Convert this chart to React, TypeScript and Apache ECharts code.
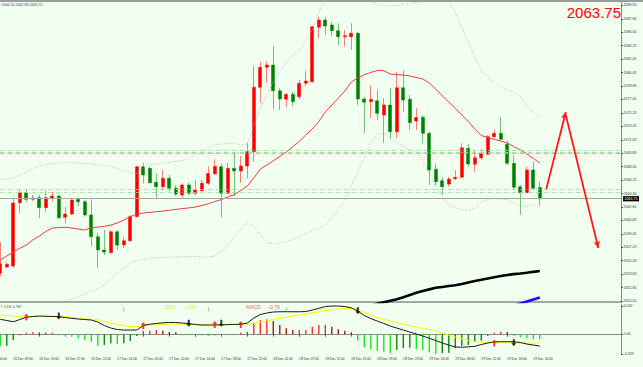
import React, { useEffect, useRef } from "react";
import * as echarts from "echarts";

// x-axis tick labels (one every 4 hourly bars)
const tickLabels = [
  "26 Dec 04:00", "26 Dec 09:00", "26 Dec 13:00", "26 Dec 17:00", "26 Dec 21:00",
  "27 Dec 01:00", "27 Dec 05:00", "27 Dec 10:00", "27 Dec 14:00", "27 Dec 18:00",
  "27 Dec 22:00", "28 Dec 02:00", "28 Dec 07:00", "28 Dec 11:00", "28 Dec 15:00",
  "28 Dec 19:00", "28 Dec 23:00", "29 Dec 03:00", "29 Dec 08:00", "29 Dec 12:00",
  "29 Dec 16:00", "29 Dec 20:00",
];

// hourly candles: [open, close, low, high]
const ohlc: number[][] = [
  [2053.80, 2055.00, 2053.40, 2057.95], [2054.60, 2054.96, 2054.47, 2055.27],
  [2054.74, 2063.18, 2054.47, 2063.71], [2063.22, 2064.56, 2061.84, 2064.92],
  [2064.56, 2063.67, 2063.35, 2064.92], [2063.67, 2063.85, 2063.45, 2064.25],
  [2063.89, 2062.55, 2061.13, 2064.25], [2062.55, 2063.89, 2062.01, 2064.82],
  [2063.81, 2064.11, 2063.35, 2064.69], [2064.11, 2061.21, 2061.03, 2064.25],
  [2061.26, 2061.70, 2060.46, 2062.68], [2061.70, 2063.58, 2061.57, 2063.67],
  [2063.67, 2063.35, 2062.77, 2063.89], [2063.35, 2061.57, 2061.34, 2063.58],
  [2061.57, 2058.66, 2057.32, 2063.67], [2058.66, 2056.88, 2054.47, 2059.16],
  [2056.88, 2056.61, 2056.21, 2059.56], [2056.52, 2059.33, 2056.44, 2059.56],
  [2059.33, 2057.55, 2056.88, 2059.56], [2057.55, 2058.13, 2057.11, 2058.66],
  [2058.13, 2061.34, 2057.99, 2061.57], [2061.34, 2068.04, 2061.26, 2068.13],
  [2068.04, 2066.93, 2065.81, 2068.58], [2067.82, 2065.89, 2065.81, 2068.04],
  [2065.95, 2065.36, 2063.81, 2067.15], [2065.36, 2066.49, 2064.92, 2067.60],
  [2066.49, 2065.15, 2064.69, 2066.93], [2065.15, 2064.38, 2064.11, 2065.59],
  [2064.25, 2065.59, 2063.94, 2065.81], [2065.59, 2064.48, 2064.25, 2065.89],
  [2064.48, 2064.92, 2064.25, 2066.26], [2064.82, 2065.81, 2064.69, 2066.26],
  [2065.81, 2067.13, 2065.59, 2068.04], [2067.10, 2068.09, 2066.93, 2069.03],
  [2068.04, 2064.48, 2061.26, 2068.49], [2064.48, 2067.82, 2064.38, 2068.58],
  [2067.82, 2067.46, 2064.11, 2069.97], [2067.46, 2068.13, 2065.89, 2069.47],
  [2068.13, 2070.05, 2066.49, 2071.25], [2070.05, 2078.68, 2068.71, 2081.53],
  [2078.68, 2081.35, 2076.57, 2082.10], [2081.35, 2081.66, 2079.25, 2082.20],
  [2081.66, 2078.22, 2075.73, 2084.21], [2078.22, 2077.11, 2075.63, 2078.54],
  [2077.07, 2077.74, 2076.00, 2077.87], [2077.74, 2076.75, 2076.17, 2078.09],
  [2077.42, 2079.21, 2077.07, 2079.65], [2079.21, 2079.52, 2078.85, 2080.90],
  [2079.43, 2086.79, 2079.29, 2086.89], [2086.71, 2087.69, 2085.24, 2088.13],
  [2087.69, 2086.89, 2085.68, 2088.13], [2087.02, 2086.26, 2085.45, 2087.46],
  [2086.26, 2085.45, 2084.34, 2087.25], [2085.45, 2085.59, 2084.11, 2086.35],
  [2085.45, 2085.91, 2083.67, 2087.25], [2085.91, 2077.11, 2076.30, 2086.12],
  [2077.11, 2076.67, 2072.55, 2077.42], [2076.75, 2077.07, 2074.56, 2078.98],
  [2076.88, 2075.19, 2074.29, 2078.31], [2074.96, 2076.30, 2071.21, 2077.24],
  [2076.30, 2072.73, 2071.75, 2078.58], [2072.73, 2078.62, 2071.88, 2080.72],
  [2078.62, 2076.97, 2075.41, 2080.90], [2077.07, 2073.93, 2072.96, 2077.64],
  [2074.16, 2074.63, 2072.96, 2075.90], [2074.66, 2072.51, 2071.17, 2074.96],
  [2072.51, 2067.60, 2065.59, 2072.73], [2067.69, 2066.03, 2065.59, 2068.49],
  [2066.16, 2065.36, 2064.25, 2066.62], [2065.72, 2066.39, 2065.36, 2066.70],
  [2066.43, 2066.62, 2066.26, 2067.60], [2066.62, 2070.58, 2066.49, 2071.17],
  [2070.50, 2068.40, 2068.04, 2071.08], [2068.36, 2069.24, 2067.37, 2070.28],
  [2069.24, 2069.83, 2068.94, 2070.37], [2069.70, 2072.06, 2069.61, 2072.29],
  [2072.06, 2072.51, 2071.84, 2073.05], [2072.51, 2071.71, 2071.62, 2074.70],
  [2071.04, 2068.49, 2068.27, 2071.52], [2068.49, 2065.28, 2065.05, 2069.61],
  [2065.36, 2064.56, 2061.57, 2065.59], [2064.56, 2067.60, 2064.48, 2068.04],
  [2067.60, 2065.15, 2064.92, 2068.71], [2065.24, 2063.75, 2062.83, 2066.10],
];

// moving average (red)
const maMid = [
  2055.54, 2056.08, 2056.61, 2057.11, 2057.55, 2058.22, 2058.76, 2059.36, 2059.83, 2059.89,
  2059.92, 2059.83, 2059.69, 2059.56, 2059.87, 2059.96, 2060.05, 2060.23, 2060.50, 2060.90,
  2061.34, 2061.70, 2061.84, 2061.93, 2062.01, 2062.10, 2062.21, 2062.32, 2062.43, 2062.52,
  2062.64, 2062.84, 2063.08, 2063.38, 2063.63, 2063.98, 2064.31, 2064.85, 2065.45, 2066.53,
  2067.73, 2068.27, 2068.84, 2069.43, 2070.01, 2070.72, 2071.44, 2072.29, 2073.09, 2074.09,
  2075.37, 2076.30, 2077.24, 2078.18, 2079.39, 2079.92, 2080.35, 2080.66, 2080.93, 2080.89,
  2080.46, 2080.36, 2080.32, 2080.19, 2079.99, 2079.79, 2079.25, 2078.45, 2077.51, 2076.71,
  2075.84, 2074.96, 2074.09, 2073.09, 2072.22, 2071.95, 2071.68, 2071.48, 2071.21, 2070.74,
  2070.28, 2069.74, 2069.16, 2068.53,
];

// Bollinger bands (dotted grey)
const bbUpper = [
  2066.35, 2066.39, 2066.48, 2066.93, 2067.33, 2067.80, 2068.13, 2068.33, 2068.47, 2068.54,
  2068.57, 2068.57, 2068.54, 2068.49, 2068.43, 2068.33, 2068.20, 2068.11, 2067.80, 2067.46,
  2067.26, 2067.15, 2067.86, 2068.33, 2068.47, 2068.54, 2068.60, 2068.74, 2068.87, 2069.07,
  2069.54, 2070.01, 2070.61, 2070.95, 2071.08, 2071.17, 2071.15, 2071.01, 2070.95, 2073.62,
  2075.90, 2077.64, 2079.39, 2080.86, 2082.06, 2082.87, 2083.67, 2085.01, 2086.35, 2088.76,
  2090.37, 2091.44, 2092.25, 2092.51, 2092.38, 2091.71, 2090.91, 2090.24, 2089.83, 2089.57,
  2089.57, 2089.66, 2089.77, 2089.90, 2090.04, 2090.14, 2090.50, 2090.64, 2090.50, 2090.37,
  2088.76, 2086.62, 2084.74, 2082.73, 2080.86, 2080.06, 2079.39, 2078.72, 2078.31, 2077.98,
  2077.51, 2076.17, 2075.37, 2074.56,
];
const bbLower = [
  2046.16, 2046.43, 2046.83, 2047.23, 2047.77, 2048.31, 2048.84, 2049.38, 2049.71, 2049.85,
  2050.05, 2050.32, 2050.65, 2050.99, 2051.39, 2051.66, 2052.19, 2053.00, 2053.80, 2054.47,
  2055.14, 2055.47, 2055.61, 2055.74, 2055.85, 2055.90, 2055.94, 2055.94, 2055.97, 2056.00,
  2056.00, 2055.94, 2055.94, 2056.08, 2056.75, 2057.48, 2058.62, 2059.69, 2060.50, 2060.10,
  2058.89, 2057.95, 2057.68, 2057.82, 2057.99, 2058.29, 2058.62, 2059.09, 2059.52, 2059.83,
  2060.23, 2061.10, 2062.37, 2063.58, 2065.45, 2067.33, 2069.20, 2071.21, 2072.42, 2072.55,
  2071.82, 2071.21, 2070.81, 2070.34, 2070.01, 2068.94, 2067.06, 2065.32, 2064.02, 2062.99,
  2062.56, 2062.24, 2062.24, 2062.44, 2063.38, 2063.64, 2063.78, 2063.71, 2063.64, 2063.24,
  2062.64, 2062.77, 2062.91, 2062.64,
];

// slow moving averages entering from below (black, blue)
const slowStart = 57;
const maSlow = [
  2049.44, 2049.67, 2049.89, 2050.10, 2050.30, 2050.56, 2050.85, 2051.15, 2051.39, 2051.61,
  2051.82, 2051.94, 2052.06, 2052.16, 2052.33, 2052.53, 2052.73, 2052.90, 2053.08, 2053.24,
  2053.40, 2053.54, 2053.65, 2053.74, 2053.84, 2053.96, 2054.07,
];
const blueStart = 79;
const maBlue = [2049.44, 2049.71, 2049.98, 2050.25, 2050.52];

// MACD window
const macdHist = [
  -2.6, -2.5, -1.27, -0.26, 0.30, 0.39, 0.34, 0.30, 0.30, -0.26,
  -0.41, -0.56, -0.90, -1.27, -1.63, -2.56, -2.34, -1.98, -2.13, -1.98,
  -1.48, -0.41, 0.73, 0.73, 0.88, 0.73, 0.45, 0.39, -0.26, -0.26,
  -0.26, -0.30, -0.41, -0.26, -0.26, -0.26, -0.26, 0.30, 0.52, 2.32,
  3.03, 3.18, 2.81, 1.95, 1.25, 0.88, 0.88, 0.88, 1.59, 1.95,
  1.95, 1.59, 1.03, 0.73, 0.39, -1.42, -2.83, -3.26, -3.56, -3.78,
  -4.12, -3.41, -2.98, -2.94, -3.26, -3.41, -3.91, -4.27, -4.12, -3.99,
  -3.05, -2.56, -2.34, -1.63, -1.42, -0.41, 0.30, 0.52, 0.45, -0.41,
  -0.69, -0.90, -1.12, -1.12,
];
const macdLine = [
  3.18, 2.92, 2.66, 3.14, 3.61, 3.78, 3.89, 3.84, 3.78, 3.74,
  3.56, 3.39, 3.24, 3.14, 3.03, 2.60, 1.85, 1.31, 0.99, 0.88,
  0.88, 0.88, 1.85, 2.13, 2.28, 2.43, 2.51, 2.49, 2.38, 2.28,
  2.06, 1.95, 1.95, 1.95, 2.00, 2.04, 2.08, 2.10, 2.38, 3.46,
  4.21, 4.53, 4.75, 4.81, 4.81, 4.81, 4.81, 4.85, 5.18, 5.54,
  5.93, 6.03, 6.03, 5.93, 5.65, 4.96, 3.99, 3.35, 2.81, 2.28,
  1.74, 1.31, 0.88, 0.45, 0.02, -0.41, -0.88, -1.37, -1.91, -2.34,
  -2.77, -2.81, -2.73, -2.62, -2.23, -1.91, -1.65, -1.63, -1.63, -1.63,
  -1.80, -2.13, -2.34, -2.56,
];
const signalLine = [
  4.10, 3.99, 3.89, 3.80, 3.74, 3.76, 3.80, 3.84, 3.87, 3.89,
  3.78, 3.61, 3.46, 3.29, 3.14, 3.03, 2.71, 2.38, 2.06, 1.80,
  1.63, 1.67, 1.80, 1.95, 2.06, 2.13, 2.15, 2.17, 2.17, 2.16,
  2.15, 2.13, 2.12, 2.11, 2.10, 2.10, 2.10, 2.10, 2.17, 2.38,
  2.60, 2.81, 3.14, 3.39, 3.63, 3.84, 4.08, 4.32, 4.57, 4.83,
  5.07, 5.28, 5.39, 5.48, 5.54, 5.28, 4.64, 3.99, 3.50, 3.14,
  2.81, 2.49, 2.13, 1.85, 1.52, 1.25, 0.99, 0.67, 0.24, -0.19,
  -0.62, -1.01, -1.37, -1.63, -1.70, -1.76, -1.80, -1.83, -1.85, -1.87,
  -1.89, -1.90, -1.91, -1.91,
];
const buyArrows = [[4, 3.67], [22, 1.85], [33, 2.06], [37, 2.06], [76, -1.91]];
const sellArrows = [[9, 3.89], [29, 2.32], [34, 2.32], [55, 5.02], [79, -1.85]];
const hintMarks = [[19, 5.3], [32, 5.3], [44, 5.3]];

const priceTicks = [
  2050.05, 2051.85, 2053.65, 2055.45, 2057.25, 2059.05, 2060.85, 2062.65, 2064.45, 2066.25,
  2068.05, 2069.85, 2071.65, 2073.45, 2075.25, 2077.05, 2078.85, 2080.65, 2082.45, 2084.25,
  2086.05, 2087.85, 2089.65,
];
const macdTicks = [6.042, 0, -4.329];
const macdTickText = ["6.042", "0.00", "-4.329"];
const lastPrice = 2063.75;
const greenLevels = [2070.28, 2070.01, 2065.01, 2064.56];
const redLevels = [2069.83];
const trendUp = [[83.95, 2065.05], [86.95, 2075.37]];
const trendDown = [[87.35, 2074.96], [92.27, 2057.15]];

const LEAD = 2;
const TOTAL = 98;
const FONT = "Liberation Sans, Arial, sans-serif";

export default function App() {
  const ref = useRef<HTMLDivElement>(null);
  useEffect(() => {
    document.body.style.margin = "0";
    const chart = echarts.init(ref.current!, null, { renderer: "svg" });
    const categories = Array.from({ length: TOTAL }, (_, j) => String(j));
    const padLine = (arr: number[], start = 0) => {
      const out: any[] = Array(TOTAL).fill(null);
      arr.forEach((v, k) => (out[LEAD + start + k] = v));
      return out;
    };
    const candleData: any[] = Array.from({ length: TOTAL }, () => ["-", "-", "-", "-"]);
    ohlc.forEach((c, k) => (candleData[LEAD + k] = c));
    const histData: any[] = Array(TOTAL).fill(null);
    macdHist.forEach((v, k) => {
      const prev = k > 0 ? macdHist[k - 1] : v;
      let color;
      if (v >= 0) color = v >= prev ? "#ff2a2a" : "#a01818";
      else color = v <= prev ? "#22e022" : "#0a8a0a";
      histData[LEAD + k] = { value: v, itemStyle: { color } };
    });
    const shift = (pts: number[][]) => pts.map(([x, y]) => [x + LEAD, y]);
    const upArrow = "path://M5 0 L10 5 L7 5 L7 12 L3 12 L3 5 L0 5 Z";
    const downArrow = "path://M3 0 L7 0 L7 7 L10 7 L5 12 L0 7 L3 7 Z";
    const gridLeft = -15.95;
    const gridWidth = 637;
    const isTick = (idx: number) => idx % 4 === 0 && idx / 4 < tickLabels.length;

    const option: any = {
      animation: false,
      backgroundColor: "#f0fff0",
      textStyle: { fontFamily: FONT },
      grid: [
        { left: gridLeft, width: gridWidth, top: 2, height: 300, outerBoundsMode: "none", containLabel: false },
        { left: gridLeft, width: gridWidth, top: 304, height: 50.5, outerBoundsMode: "none", containLabel: false },
      ],
      xAxis: [
        {
          type: "category", gridIndex: 0, data: categories, boundaryGap: true,
          axisLine: { show: true, lineStyle: { color: "#8a8a8a", width: 1.5 } },
          axisTick: { show: false }, axisLabel: { show: false }, splitLine: { show: false },
        },
        {
          type: "category", gridIndex: 1, data: categories, boundaryGap: true,
          axisLine: { show: true, lineStyle: { color: "#8a8a8a", width: 1 } },
          axisTick: { show: true, alignWithLabel: true, interval: (i: number) => isTick(i), length: 2.5, lineStyle: { color: "#555" } },
          axisLabel: {
            show: true, interval: (i: number) => isTick(i), align: "left", margin: 2.5,
            fontSize: 3.3, color: "#333", fontFamily: FONT, hideOverlap: false,
            formatter: (_v: string, i: number) => tickLabels[i / 4] ?? "",
          },
          splitLine: { show: false },
        },
      ],
      yAxis: [
        {
          type: "value", gridIndex: 0, position: "right", min: 2049.92, max: 2090.1,
          axisLine: { show: true, lineStyle: { color: "#8a8a8a", width: 1 } },
          axisTick: { show: true, length: 2, customValues: priceTicks, lineStyle: { color: "#555" } },
          axisLabel: {
            show: true, customValues: priceTicks, margin: 2.5, fontSize: 3.6, color: "#333",
            fontFamily: FONT, formatter: (v: number) => v.toFixed(2),
          },
          splitLine: { show: false },
        },
        {
          type: "value", gridIndex: 1, position: "right", min: -4.372, max: 6.471,
          axisLine: { show: true, lineStyle: { color: "#8a8a8a", width: 1 } },
          axisTick: { show: true, length: 2, customValues: macdTicks, lineStyle: { color: "#555" } },
          axisLabel: {
            show: true, customValues: macdTicks, margin: 2.5, fontSize: 3.6, color: "#333",
            fontFamily: FONT, formatter: (v: number) => macdTickText[macdTicks.indexOf(v)] ?? "",
          },
          splitLine: { show: false },
        },
      ],
      series: [
        {
          type: "line", xAxisIndex: 0, yAxisIndex: 0, data: padLine(bbUpper), symbol: "none",
          lineStyle: { color: "#a8b0a8", width: 0.8, type: [1, 1.5] }, silent: true,
        },
        {
          type: "line", xAxisIndex: 0, yAxisIndex: 0, data: padLine(bbLower), symbol: "none",
          lineStyle: { color: "#a8b0a8", width: 0.8, type: [1, 1.5] }, silent: true,
        },
        {
          type: "line", xAxisIndex: 0, yAxisIndex: 0, data: [], symbol: "none", silent: true,
          markLine: {
            silent: true, symbol: "none", animation: false, label: { show: false },
            data: [
              ...greenLevels.map((v) => ({ yAxis: v, lineStyle: { color: "#9ad89a", width: 0.8, type: [4, 1.5, 1, 1.5] } })),
              ...redLevels.map((v) => ({ yAxis: v, lineStyle: { color: "#f09090", width: 0.8, type: [4, 1.5, 1, 1.5] } })),
            ],
          },
        },
        {
          type: "candlestick", xAxisIndex: 0, yAxisIndex: 0, data: candleData, barWidth: 3.8,
          itemStyle: { color: "#ff0000", color0: "#008000", borderColor: "#ff0000", borderColor0: "#008000", borderWidth: 0.5 },
          markLine: {
            silent: true, symbol: "none", animation: false,
            data: [{
              yAxis: lastPrice,
              lineStyle: { color: "#a8a8a8", width: 1, type: "solid" },
              label: {
                show: true, position: "end", distance: 2, formatter: lastPrice.toFixed(2),
                color: "#ffffff", backgroundColor: "#000000", fontSize: 3.6, padding: [0.6, 1.5],
                fontFamily: FONT,
              },
            }],
          },
        },
        {
          type: "line", xAxisIndex: 0, yAxisIndex: 0, data: padLine(maMid), symbol: "none",
          lineStyle: { color: "#f03a3a", width: 1 }, silent: true,
        },
        {
          type: "line", xAxisIndex: 0, yAxisIndex: 0, data: padLine(maSlow, slowStart), symbol: "none",
          lineStyle: { color: "#000000", width: 2.6 }, silent: true,
        },
        {
          type: "line", xAxisIndex: 0, yAxisIndex: 0, data: padLine(maBlue, blueStart), symbol: "none",
          lineStyle: { color: "#1010ff", width: 2.6 }, silent: true,
        },
        {
          type: "line", xAxisIndex: 0, yAxisIndex: 0, data: [], symbol: "none", silent: true,
          markLine: {
            silent: true, symbol: ["none", "arrow"], symbolSize: [5, 7], animation: false,
            label: { show: false },
            lineStyle: { color: "#ff1a1a", width: 1.8, type: "solid" },
            data: [
              shift(trendUp).map((c) => ({ coord: c })),
              shift(trendDown).map((c) => ({ coord: c })),
            ],
          },
        },
        {
          type: "bar", xAxisIndex: 1, yAxisIndex: 1, data: histData, barWidth: 1.4, silent: true,
        },
        {
          type: "line", xAxisIndex: 1, yAxisIndex: 1, data: padLine(signalLine), symbol: "none",
          lineStyle: { color: "#ffff00", width: 1.1 }, silent: true,
        },
        {
          type: "line", xAxisIndex: 1, yAxisIndex: 1, data: padLine(macdLine), symbol: "none",
          lineStyle: { color: "#1a1a1a", width: 1 }, silent: true,
        },
        {
          type: "scatter", xAxisIndex: 1, yAxisIndex: 1, data: shift(buyArrows), symbol: upArrow,
          symbolSize: [5, 7], itemStyle: { color: "#ff1010" }, silent: true, z: 5,
        },
        {
          type: "scatter", xAxisIndex: 1, yAxisIndex: 1, data: shift(sellArrows), symbol: downArrow,
          symbolSize: [5, 7], itemStyle: { color: "#000000" }, silent: true, z: 5,
        },
        {
          type: "scatter", xAxisIndex: 1, yAxisIndex: 1, data: shift(hintMarks), symbol: downArrow,
          symbolSize: [1.6, 4.5], itemStyle: { color: "#44c044" }, silent: true, z: 5,
        },
      ],
      graphic: [
        { type: "rect", left: 0, top: 0, shape: { width: 643, height: 2 }, style: { fill: "#9c9c9c" } },
        { type: "text", x: 1.5, y: 5, style: { text: "2066.10 2062.83 2063.75", fontSize: 3.6, fill: "#404040", fontFamily: FONT, verticalAlign: "middle" } },
        { type: "text", x: 621, y: 12.5, style: { text: "2063.75", fontSize: 15, fill: "#ff0000", fontFamily: FONT, align: "right", verticalAlign: "middle" } },
        { type: "text", x: 0.5, y: 306.3, style: { text: "7 -1.913 -0.788", fontSize: 3, fill: "#404040", fontFamily: FONT, verticalAlign: "middle" } },
        { type: "text", x: 165, y: 306.5, style: { text: "DEA:", fontSize: 5, fill: "#e8e800", fontFamily: FONT, verticalAlign: "middle" } },
        { type: "text", x: 185, y: 306.5, style: { text: "-1.91", fontSize: 5, fill: "#e8e800", fontFamily: FONT, verticalAlign: "middle" } },
        { type: "text", x: 246, y: 306.5, style: { text: "MACD:", fontSize: 5, fill: "#f06060", fontFamily: FONT, verticalAlign: "middle" } },
        { type: "text", x: 268.3, y: 306.5, style: { text: "-0.79", fontSize: 5, fill: "#f06060", fontFamily: FONT, verticalAlign: "middle" } },
      ],
    };
    chart.setOption(option);
    return () => chart.dispose();
  }, []);
  return <div ref={ref} style={{ width: 643, height: 367, position: "absolute", left: 0, top: 0 }} />;
}
